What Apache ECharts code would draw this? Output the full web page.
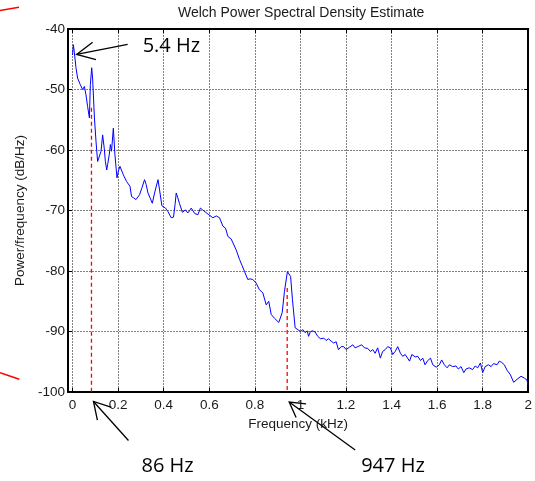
<!DOCTYPE html>
<html><head><meta charset="utf-8">
<script src="https://cdn.jsdelivr.net/npm/echarts@6/dist/echarts.min.js"></script>
<style>html,body{margin:0;padding:0;background:#fff}#c{width:535px;height:481px}</style>
</head><body><div id="c"></div>
<script>
const freqKHz = [
0.000,0.0035,0.008,0.015,0.022,0.034,0.044,0.052,0.059,0.066,0.074,0.078,0.084,0.088,0.096,0.103,0.110,0.118,0.125,0.132,
0.139,0.144,0.150,0.154,0.161,0.166,0.171,0.179,0.186,0.195,0.201,0.208,0.215,0.223,0.230,0.237,0.245,0.252,0.259,0.268,
0.278,0.294,0.305,0.316,0.323,0.331,0.340,0.350,0.360,0.375,0.382,0.392,0.408,0.419,0.433,0.443,0.450,0.455,0.462,0.469,
0.482,0.495,0.506,0.514,0.521,0.536,0.550,0.561,0.571,0.579,0.598,0.616,0.631,0.645,0.660,0.671,0.682,0.696,0.718,0.733,
0.744,0.755,0.769,0.779,0.791,0.806,0.820,0.835,0.842,0.850,0.861,0.872,0.886,0.905,0.920,0.930,0.937,0.943,0.957,0.965,
0.977,0.989,1.000,1.011,1.021,1.030,1.036,1.044,1.054,1.065,1.076,1.088,1.103,1.113,1.123,1.135,1.146,1.157,1.167,1.179,
1.190,1.201,1.215,1.230,1.240,1.252,1.269,1.281,1.296,1.307,1.318,1.328,1.339,1.351,1.361,1.372,1.383,1.395,1.405,1.416,
1.427,1.439,1.449,1.460,1.468,1.479,1.489,1.504,1.515,1.527,1.537,1.547,1.559,1.571,1.581,1.596,1.610,1.620,1.632,1.644,
1.654,1.668,1.683,1.693,1.705,1.717,1.727,1.741,1.756,1.767,1.778,1.790,1.800,1.811,1.825,1.837,1.848,1.863,1.873,1.883,
1.895,1.907,1.921,1.936,1.951,1.968,1.983,1.994,2.000];
const psdDb = [
-44.3,-42.6,-43.9,-46.4,-48.1,-49.2,-50.0,-49.5,-50.9,-52.8,-54.7,-49.2,-46.4,-48.1,-54.7,-58.6,-61.9,-61.6,-60.2,-57.5,
-59.7,-61.9,-63.3,-62.4,-60.8,-59.1,-60.2,-56.4,-60.8,-64.6,-63.5,-62.7,-62.7,-64.1,-63.8,-65.2,-65.5,-66.0,-67.7,-67.9,
-68.2,-67.4,-66.2,-64.9,-65.7,-67.1,-67.9,-68.8,-67.1,-64.9,-66.6,-69.2,-69.6,-70.2,-71.2,-71.1,-69.0,-67.1,-67.9,-68.8,
-70.3,-69.9,-70.4,-70.0,-69.6,-70.5,-70.7,-69.6,-69.9,-70.1,-70.7,-71.2,-70.9,-71.2,-72.6,-72.9,-74.3,-74.7,-76.5,-78.1,
-79.1,-80.1,-81.4,-81.3,-81.4,-82.0,-83.1,-83.6,-83.9,-85.6,-85.0,-87.2,-87.8,-88.5,-86.9,-83.4,-83.6,-80.1,-80.9,-84.7,
-89.4,-89.7,-90.0,-89.7,-90.2,-89.9,-90.8,-90.0,-89.9,-90.1,-90.8,-91.2,-91.1,-91.5,-91.2,-91.6,-91.9,-91.7,-93.0,-92.5,
-92.5,-93.0,-92.6,-92.2,-92.7,-92.5,-92.2,-92.7,-92.8,-93.3,-93.0,-93.6,-92.7,-94.4,-93.3,-93.0,-92.5,-92.7,-93.8,-93.3,
-92.5,-93.6,-94.1,-93.8,-94.1,-94.9,-93.8,-94.2,-94.1,-94.8,-94.4,-95.5,-94.8,-94.4,-95.5,-95.9,-95.5,-94.7,-95.5,-96.0,
-95.5,-95.8,-95.7,-96.2,-95.8,-96.8,-96.2,-96.0,-96.3,-95.7,-96.0,-95.2,-96.8,-95.8,-95.5,-95.8,-95.3,-95.5,-94.9,-95.1,
-95.5,-96.4,-97.1,-98.4,-97.9,-97.4,-97.7,-98.0,-98.8];
const xTickValues = [0,0.2,0.4,0.6,0.8,1,1.2,1.4,1.6,1.8,2];
const markerFreqs = [0.083, 0.942];
const markerTops = [-53, -82.8];
const annotationLabels = ['5.4 Hz', '86 Hz', '947 Hz'];
const annotationAnchors = [[0.018, -44.2], [0.083, -100], [0.942, -100]];

const FONT = '"Liberation Sans", Arial, sans-serif';
const chart = echarts.init(document.getElementById('c'), null, {renderer: 'canvas'});

const curve = freqKHz.map((f, i) => [f, psdDb[i]]);
const markerSeries = markerFreqs.map((f, i) => ({
  type: 'line', data: [[f, markerTops[i]], [f, -100]], showSymbol: false, symbol: 'none',
  lineStyle: {color: '#ff0000', width: 1.3, type: [4, 3]}, z: 4, silent: true
}));

const tickLabelStyle = {fontFamily: FONT, fontSize: 13.5, color: '#1a1a1a'};
const gridLine = {show: true, lineStyle: {color: '#808080', width: 1, type: [2, 1]}};

chart.setOption({
  animation: false,
  backgroundColor: '#fff',
  title: {text: 'Welch Power Spectral Density Estimate', left: 173, top: 1,
    textStyle: {fontFamily: FONT, fontSize: 14, fontWeight: 'normal', color: '#1a1a1a'}},
  grid: {left: 68, right: 6, top: 29, bottom: 89, containLabel: false},
  xAxis: [{
    type: 'value', min: -0.02, max: 2, position: 'bottom',
    name: 'Frequency (kHz)', nameLocation: 'middle', nameGap: 24,
    nameTextStyle: {fontFamily: FONT, fontSize: 13.5, color: '#1a1a1a'},
    axisLine: {show: true, onZero: false, lineStyle: {color: '#000', width: 2}},
    axisTick: {show: true, inside: true, length: 4, customValues: xTickValues, lineStyle: {color: '#000'}},
    axisLabel: Object.assign({customValues: xTickValues, margin: 6, showMinLabel: true, showMaxLabel: true,
      formatter: v => String(+(+v).toFixed(1))}, tickLabelStyle),
    splitLine: gridLine
  }, {
    type: 'value', min: -0.02, max: 2, position: 'top',
    axisLine: {show: true, onZero: false, lineStyle: {color: '#000', width: 2}},
    axisTick: {show: true, inside: true, length: 4, customValues: xTickValues, lineStyle: {color: '#000'}},
    axisLabel: {show: false}, splitLine: {show: false}
  }],
  yAxis: [{
    type: 'value', min: -100, max: -40, interval: 10, position: 'left',
    name: 'Power/frequency (dB/Hz)', nameLocation: 'middle', nameGap: 41, nameRotate: 90,
    nameTextStyle: {fontFamily: FONT, fontSize: 13.5, color: '#1a1a1a'},
    axisLine: {show: true, onZero: false, lineStyle: {color: '#000', width: 2}},
    axisTick: {show: true, inside: true, length: 4, lineStyle: {color: '#000'}},
    axisLabel: Object.assign({margin: 3}, tickLabelStyle),
    splitLine: gridLine
  }, {
    type: 'value', min: -100, max: -40, interval: 10, position: 'right',
    axisLine: {show: true, onZero: false, lineStyle: {color: '#000', width: 2}},
    axisTick: {show: true, inside: true, length: 4, lineStyle: {color: '#000'}},
    axisLabel: {show: false}, splitLine: {show: false}
  }],
  series: [{
    type: 'line', data: curve, showSymbol: false, symbol: 'none', smooth: false,
    lineStyle: {color: '#0000ff', width: 1}, z: 3, silent: true
  }].concat(markerSeries)
});

// annotations (arrows + labels), anchored through the axes
const layout = [
  {tip: [0, 0], tail: [51, -10], label: [66, -8], head: 20, ang: 26},
  {tip: [2, 9.5], tail: [35, 39], label: [50, 74], head: 19, ang: 30},
  {tip: [2, 10], tail: [66, 48], label: [74, 74], head: 17, ang: 30}
];
const graphics = [];
annotationAnchors.forEach((a, i) => {
  const p = chart.convertToPixel({xAxisIndex: 0, yAxisIndex: 0}, a);
  const L = layout[i];
  const T = [p[0] + L.tip[0], p[1] + L.tip[1]];
  const S = [T[0] + L.tail[0], T[1] + L.tail[1]];
  const len = Math.hypot(L.tail[0], L.tail[1]);
  const u = [L.tail[0] / len, L.tail[1] / len];
  const rot = (v, d) => { const r = d * Math.PI / 180; return [v[0] * Math.cos(r) - v[1] * Math.sin(r), v[0] * Math.sin(r) + v[1] * Math.cos(r)]; };
  const a1 = rot(u, L.ang), a2 = rot(u, -L.ang);
  graphics.push({type: 'polyline', shape: {points: [S, T]}, style: {stroke: '#000', lineWidth: 1.3, fill: null}, z: 10});
  graphics.push({type: 'polyline', shape: {points: [[T[0] + a1[0] * L.head, T[1] + a1[1] * L.head], T, [T[0] + a2[0] * L.head, T[1] + a2[1] * L.head]]},
    style: {stroke: '#000', lineWidth: 1.3, fill: null}, z: 10});
  graphics.push({type: 'text', x: p[0] + L.label[0], y: p[1] + L.label[1],
    style: {text: annotationLabels[i], font: '20px "Open Sans", sans-serif', fill: '#000', textVerticalAlign: 'middle', textAlign: 'left'}, z: 10});
});
// red remnant strokes at the left margin
graphics.push({type: 'line', shape: {x1: 0, y1: 10.5, x2: 19, y2: 7.3}, style: {stroke: '#ff0000', lineWidth: 1.5}, z: 10});
graphics.push({type: 'line', shape: {x1: 0, y1: 372.7, x2: 19.3, y2: 379.3}, style: {stroke: '#ff0000', lineWidth: 1.5}, z: 10});
chart.setOption({graphic: graphics});
</script></body></html>
